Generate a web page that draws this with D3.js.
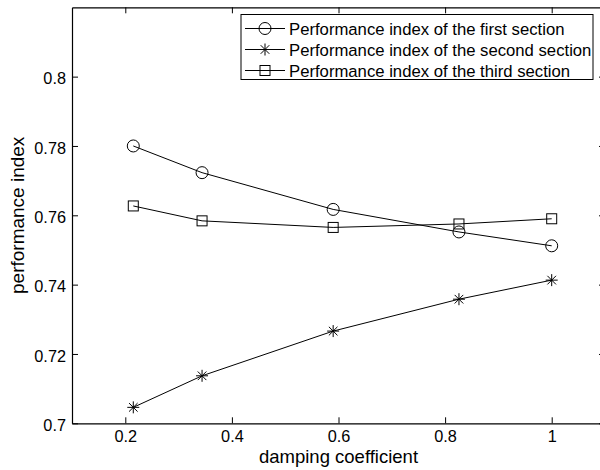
<!DOCTYPE html>
<html>
<head>
<meta charset="utf-8">
<script src="https://cdn.jsdelivr.net/npm/d3@7"></script>
<style>
  body { margin: 0; background: #fff; }
  svg text { font-family: "Liberation Sans", Arial, sans-serif; fill: #000; }
</style>
</head>
<body>
<svg id="chart" width="600" height="470"></svg>
<script>
// damping coefficient values (x)
var damping = [0.215, 0.344, 0.59, 0.826, 1.0];
// performance index per section
var firstSection  = [0.7800, 0.7723, 0.7617, 0.7552, 0.7512];
var secondSection = [0.7046, 0.7137, 0.7266, 0.7358, 0.7413];
var thirdSection  = [0.7627, 0.7584, 0.7565, 0.7575, 0.7590];

var xTicks = [0.2, 0.4, 0.6, 0.8, 1];
var yTicks = [0.7, 0.72, 0.74, 0.76, 0.78, 0.8];

var seriesNames = [
  "Performance index of the first section",
  "Performance index of the second section",
  "Performance index of the third section"
];
var markers = ["circle", "star", "square"];

var svg = d3.select("#chart");

var mLeft = 72, mRight = 605, mTop = 7.3, mBottom = 423.3;

var x = d3.scaleLinear().domain([0.1, 1.1]).range([mLeft, mRight]);
var y = d3.scaleLinear().domain([0.7, 0.82]).range([mBottom, mTop]);

var tickLen = 6;
var tickFont = 16.3;

// axes box with inward ticks
var xAxisB = d3.axisBottom(x).tickValues(xTicks).tickSizeInner(-tickLen).tickSizeOuter(0)
  .tickFormat(d3.format("~g")).tickPadding(7.5);
var xAxisT = d3.axisTop(x).tickValues(xTicks).tickSizeInner(-tickLen).tickSizeOuter(0).tickFormat("");
var yAxisL = d3.axisLeft(y).tickValues(yTicks).tickSizeInner(-tickLen).tickSizeOuter(0)
  .tickFormat(d3.format("~g")).tickPadding(6);
var yAxisR = d3.axisRight(y).tickValues(yTicks).tickSizeInner(-tickLen).tickSizeOuter(0).tickFormat("");

function styleAxis(g) {
  g.select(".domain").attr("stroke", "#000").attr("stroke-width", 1.2);
  g.selectAll(".tick line").attr("stroke", "#000").attr("stroke-width", 1);
  g.selectAll("text").attr("font-size", tickFont).style("font-family", '"Liberation Sans", Arial, sans-serif');
}

svg.append("g").attr("transform", "translate(0," + mBottom + ")").call(xAxisB).call(styleAxis);
svg.append("g").attr("transform", "translate(0," + mTop + ")").call(xAxisT).call(styleAxis);
svg.append("g").attr("transform", "translate(" + mLeft + ",0)").call(yAxisL).call(styleAxis)
  .selectAll("text").attr("dy", "0.45em");
svg.append("g").attr("transform", "translate(" + mRight + ",0)").call(yAxisR).call(styleAxis);

// axis labels
svg.append("text")
  .attr("x", (mLeft + mRight) / 2).attr("y", 462.5)
  .attr("text-anchor", "middle").attr("font-size", 18.5)
  .text("damping coefficient");

svg.append("text")
  .attr("transform", "translate(24," + ((mTop + mBottom) / 2) + ") rotate(-90)")
  .attr("text-anchor", "middle").attr("font-size", 19)
  .text("performance index");

// marker drawing
function drawMarker(g, type, cx, cy) {
  if (type === "circle") {
    g.append("circle").attr("cx", cx).attr("cy", cy).attr("r", 6)
      .attr("fill", "none").attr("stroke", "#000").attr("stroke-width", 1);
  } else if (type === "square") {
    g.append("rect").attr("x", cx - 5).attr("y", cy - 5).attr("width", 10).attr("height", 10)
      .attr("fill", "none").attr("stroke", "#000").attr("stroke-width", 1);
  } else {
    var s = 6, d = 4.3;
    var p = "M" + cx + "," + (cy - s) + "L" + cx + "," + (cy + s) +
            "M" + (cx - s) + "," + cy + "L" + (cx + s) + "," + cy +
            "M" + (cx - d) + "," + (cy - d) + "L" + (cx + d) + "," + (cy + d) +
            "M" + (cx - d) + "," + (cy + d) + "L" + (cx + d) + "," + (cy - d);
    g.append("path").attr("d", p).attr("stroke", "#000").attr("stroke-width", 1).attr("fill", "none");
  }
}

var line = d3.line().x(function(d) { return x(d[0]); }).y(function(d) { return y(d[1]); });

var allSeries = [firstSection, secondSection, thirdSection];
allSeries.forEach(function(vals, k) {
  var pts = damping.map(function(dv, i) { return [dv, vals[i]]; });
  var g = svg.append("g");
  g.append("path").attr("d", line(pts)).attr("fill", "none")
    .attr("stroke", "#000").attr("stroke-width", 1);
  pts.forEach(function(p) { drawMarker(g, markers[k], x(p[0]), y(p[1])); });
});

// legend
var legend = svg.append("g");
legend.append("rect").attr("x", 241).attr("y", 14.5).attr("width", 352).attr("height", 65)
  .attr("fill", "#fff").attr("stroke", "#000").attr("stroke-width", 1);
seriesNames.forEach(function(name, k) {
  var ly = 28.5 + k * 21;
  legend.append("line").attr("x1", 245).attr("x2", 285).attr("y1", ly).attr("y2", ly)
    .attr("stroke", "#000").attr("stroke-width", 1);
  drawMarker(legend, markers[k], 265, ly);
  legend.append("text").attr("x", 289).attr("y", ly).attr("dy", "0.36em")
    .attr("font-size", 16.7).text(name);
});
</script>
</body>
</html>
